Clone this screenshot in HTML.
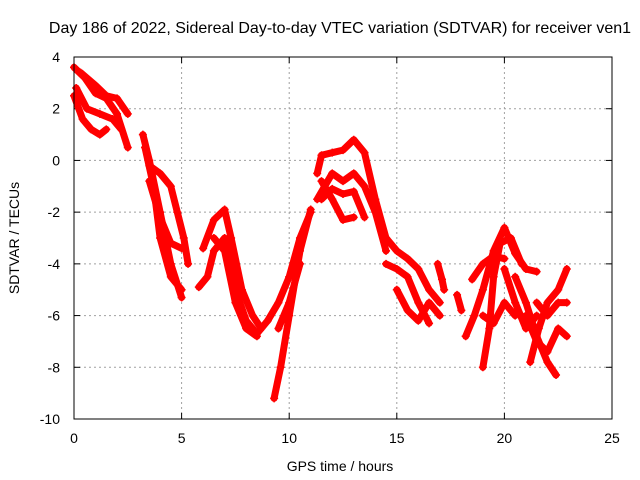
<!DOCTYPE html>
<html><head><meta charset="utf-8"><style>
body{margin:0;background:#fff}
svg{display:block}
text{font-family:"Liberation Sans",sans-serif;font-size:14px;fill:#000}
</style></head><body>
<svg id="chart" width="640" height="480">
<text x="340" y="33" text-anchor="middle" style="font-size:16px">Day 186 of 2022, Sidereal Day-to-day VTEC variation (SDTVAR) for receiver ven1</text>
<text x="340" y="471" text-anchor="middle">GPS time / hours</text>
<text transform="translate(19,238) rotate(-90)" text-anchor="middle">SDTVAR / TECUs</text>
<g id="grid"></g><g id="marks"></g>
<rect x="74" y="57" width="538" height="362" fill="none" stroke="#000" stroke-width="1"/>
</svg>
<script>
const xTicks=[0,5,10,15,20,25];
const yTicks=[4,2,0,-2,-4,-6,-8,-10];
const trackA1=[[0,3.6],[0.5,3.2],[1,2.6],[1.5,2.4],[2,1.8],[2.5,0.5]];
const trackA2=[[0,2.5],[0.4,1.6],[0.8,1.2],[1.2,1.0],[1.5,1.2]];
const trackA3=[[0.3,3.4],[1,2.9],[1.5,2.5],[2,2.4],[2.5,1.8]];
const trackA4=[[0.1,2.8],[0.6,2.0],[1.2,1.8],[1.8,1.6],[2.2,1.2]];
const trackB1=[[3.2,1.0],[3.5,0],[4,-2],[4.5,-4],[5,-5.3]];
const trackB2=[[3.3,0.5],[3.7,-1],[4,-3],[4.5,-4.5],[5,-5]];
const trackB3=[[3.5,-0.2],[4,-0.5],[4.5,-1],[4.8,-2],[5.1,-3],[5.3,-4]];
const trackB4=[[3.5,-0.8],[4,-2.2],[4.5,-3.2],[5,-3.4]];
const trackC1=[[5.8,-4.9],[6.2,-4.5],[6.5,-3.5],[7,-3],[7.5,-5],[8,-6.2],[8.5,-6.7],[9,-6.2]];
const trackC2=[[6,-3.4],[6.5,-2.3],[7,-1.9],[7.3,-3],[7.8,-5],[8.3,-6],[8.7,-6.5]];
const trackC3=[[6.5,-3],[7,-3.5],[7.5,-5.5],[8,-6.5],[8.5,-6.8]];
const trackD1=[[9.3,-9.2],[9.6,-8],[10,-6],[10.5,-3.5],[11,-1.9]];
const trackD2=[[9,-6.2],[9.5,-5.5],[10,-4.5],[10.5,-3],[11,-2]];
const trackD3=[[9.5,-6.5],[10,-5.5],[10.5,-4]];
const trackE1=[[11.3,-0.5],[11.5,0.2],[12,0.3],[12.5,0.4],[13,0.8],[13.5,0.3],[14,-1.5],[14.5,-3]];
const trackE2=[[11.3,-1.5],[12,-0.5],[12.5,-0.8],[13,-0.5],[13.5,-1],[14,-2],[14.5,-3.5]];
const trackE3=[[11.5,-1.5],[12,-1.1],[12.5,-1.3],[13,-1.2],[13.5,-2.2]];
const trackE4=[[11.5,-0.8],[12,-1.5],[12.5,-2.3],[13,-2.2]];
const trackF1=[[14.5,-3],[15,-3.5],[15.5,-3.8],[16,-4.2],[16.5,-5],[17,-5.5]];
const trackF2=[[15,-5],[15.5,-5.8],[16,-6.2],[16.5,-5.5],[17,-6]];
const trackF3=[[14.5,-4],[15,-4.2],[15.5,-4.5],[16,-5.5],[16.5,-6.3]];
const trackF4=[[16.9,-4],[17.1,-4.6],[17.2,-5]];
const trackF5=[[17.8,-5.2],[18,-5.8]];
const trackG1=[[18.2,-6.8],[18.6,-6],[19,-5],[19.5,-3.5],[20,-2.6],[20.5,-3.6],[21,-4.2],[21.5,-4.3]];
const trackG2=[[19,-8],[19.3,-6.5],[19.5,-4.5],[19.8,-3.2],[20.3,-3],[20.8,-4]];
const trackG3=[[18.5,-4.6],[19,-4],[19.5,-3.7],[20,-3.8]];
const trackG4=[[19,-6],[19.5,-6.3],[20,-5.5],[20.5,-6]];
const trackH1=[[20.5,-4.5],[21,-5.5],[21.5,-6.8],[22,-7.8],[22.4,-8.3]];
const trackH2=[[21,-6],[21.5,-7],[22,-7.4],[22.5,-6.5],[22.9,-6.8]];
const trackH3=[[21.2,-7.8],[21.6,-6.5],[22,-5.5],[22.5,-5],[22.9,-4.2]];
const trackH4=[[21.5,-5.5],[22,-6],[22.5,-5.5],[22.9,-5.5]];
const trackH5=[[20,-4.2],[20.5,-5.5],[21,-6.5],[21.5,-6]];
const tracks=[trackA1,trackA2,trackA3,trackA4,trackB1,trackB2,trackB3,trackB4,trackC1,trackC2,trackC3,trackD1,trackD2,trackD3,trackE1,trackE2,trackE3,trackE4,trackF1,trackF2,trackF3,trackF4,trackF5,trackG1,trackG2,trackG3,trackG4,trackH1,trackH2,trackH3,trackH4,trackH5];
const NS='http://www.w3.org/2000/svg';
const X0=74,X1=612,Y0=419,Y1=57;
function xs(t){return X0+(t-0)/(25-0)*(X1-X0);}
function ys(v){return Y0-(v+10)/(4+10)*(Y0-Y1);}
const grid=document.getElementById('grid');
function mk(tag,attrs,parent){const e=document.createElementNS(NS,tag);for(const k in attrs)e.setAttribute(k,attrs[k]);parent.appendChild(e);return e;}
xTicks.forEach(t=>{
  const x=xs(t);
  if(t>0&&t<25){const g=mk('line',{x1:x,x2:x,y1:Y1,y2:Y0,stroke:'#a0a0a0','stroke-dasharray':'2,3'},grid);
  
  }
  mk('line',{x1:x,x2:x,y1:Y0,y2:Y0-6,stroke:'#000'},grid);
  mk('line',{x1:x,x2:x,y1:Y1,y2:Y1+6,stroke:'#000'},grid);
  const l=mk('text',{x:x,y:443,'text-anchor':'middle'},grid);l.textContent=t;
  
  
});
yTicks.forEach(v=>{
  const y=ys(v);
  if(v>-10&&v<4){const g=mk('line',{x1:X0,x2:X1,y1:y,y2:y,stroke:'#a0a0a0','stroke-dasharray':'2,3'},grid);
  
  }
  mk('line',{x1:X0,x2:X0+6,y1:y,y2:y,stroke:'#000'},grid);
  mk('line',{x1:X1,x2:X1-6,y1:y,y2:y,stroke:'#000'},grid);
  const l=mk('text',{x:60,y:y+5,'text-anchor':'end'},grid);l.textContent=v;
  
  
});
const marks=document.getElementById('marks');
tracks.forEach(tr=>{
  const pts=tr.map(p=>xs(p[0]).toFixed(1)+','+ys(p[1]).toFixed(1)).join(' ');
  const pl=mk('polyline',{points:pts,fill:'none',stroke:'#ff0000','stroke-width':7,'stroke-linejoin':'round','stroke-linecap':'round'},marks);
  
  
  tr.forEach(p=>{
    const x=xs(p[0]),y=ys(p[1]);
    const c=mk('path',{d:`M${x-4},${y}H${x+4}M${x},${y-4}V${y+4}`,stroke:'#ff0000','stroke-width':1.5},marks);
    
    
  });
});
</script>
</body></html>
